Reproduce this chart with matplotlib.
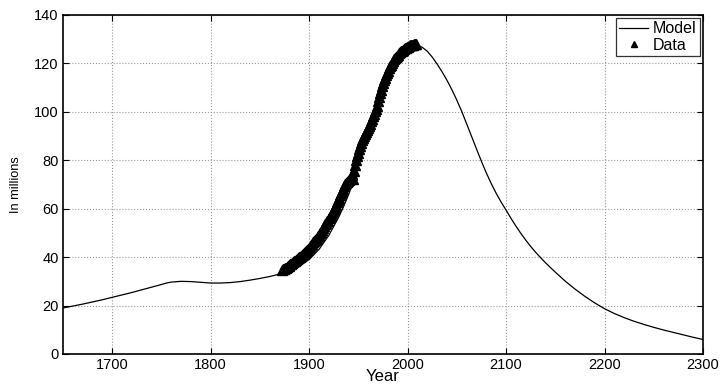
import matplotlib
matplotlib.use('Agg')
import matplotlib.pyplot as plt

plt.rcParams['font.family'] = ['Liberation Sans', 'DejaVu Sans']

# Model curve (millions)
model_years = [1650, 1660, 1670, 1680, 1690, 1700, 1710, 1720, 1730, 1740,
               1750, 1755, 1760, 1770, 1780, 1790, 1800, 1810, 1820, 1830,
               1840, 1850, 1860, 1870, 1880, 1890, 1900, 1910, 1920, 1930,
               1935, 1940, 1945, 1950, 1955, 1960, 1965, 1970, 1975, 1980,
               1985, 1990, 1995, 2000, 2005, 2010, 2015, 2020, 2025, 2030,
               2035, 2040, 2045, 2050, 2055, 2060, 2065, 2070, 2075, 2080,
               2085, 2090, 2095, 2100, 2105, 2110, 2115, 2120, 2125, 2130,
               2135, 2140, 2145, 2150, 2160, 2170, 2180, 2190, 2200, 2210,
               2220, 2230, 2240, 2250, 2260, 2270, 2280, 2290, 2300]
model_pop = [19.0, 19.8, 20.6, 21.5, 22.4, 23.4, 24.4, 25.4, 26.5, 27.6,
             28.7, 29.3, 29.7, 30.0, 29.9, 29.6, 29.3, 29.3, 29.5, 29.9,
             30.5, 31.2, 32.0, 33.0, 34.3, 36.2, 39.0, 43.2, 49.0, 56.5,
             60.9, 65.8, 71.4, 77.5, 83.8, 90.3, 96.7, 102.8, 108.5, 113.6,
             118.0, 121.5, 124.6, 126.6, 127.9, 127.6, 126.6, 125.0, 122.6, 119.7,
             116.5, 113.0, 109.1, 104.8, 100.1, 95.0, 89.8, 84.6, 79.5, 74.7,
             70.3, 66.3, 62.7, 59.4, 56.0, 52.8, 49.8, 47.0, 44.4, 42.0,
             39.8, 37.7, 35.7, 33.8, 30.1, 26.8, 23.8, 21.1, 18.7, 16.7,
             15.0, 13.5, 12.2, 11.0, 9.9, 8.9, 7.9, 6.9, 6.0]

# Observed data (millions), 1872-2008
data_years = list(range(1872, 2009))
data_pop = [34.81, 34.99, 35.15, 35.32, 35.56, 35.87, 36.17, 36.46, 36.65, 36.97,
            37.26, 37.57, 37.96, 38.31, 38.54, 38.70, 39.03, 39.47, 39.90, 40.25,
            40.51, 40.86, 41.14, 41.56, 41.99, 42.40, 42.89, 43.40, 43.85, 44.36,
            44.96, 45.55, 46.14, 46.62, 47.04, 47.42, 47.96, 48.55, 49.18, 49.85,
            50.58, 51.31, 52.04, 52.75, 53.50, 54.13, 54.74, 55.03, 55.96, 56.67,
            57.39, 58.12, 58.88, 59.74, 60.74, 61.66, 62.60, 63.46, 64.45, 65.46,
            66.43, 67.43, 68.31, 69.25, 70.11, 70.63, 71.01, 71.38, 71.93, 72.22,
            72.88, 73.90, 74.43, 72.15, 75.75, 78.10, 80.00, 81.77, 83.20, 84.54,
            85.81, 86.98, 88.24, 89.28, 90.17, 90.93, 91.77, 92.64, 93.42, 94.29,
            95.18, 96.16, 97.18, 98.28, 99.04, 100.20, 101.33, 102.54, 104.67, 106.10,
            107.60, 109.10, 110.57, 111.94, 113.09, 114.15, 115.19, 116.16, 117.06, 117.90,
            118.73, 119.54, 120.31, 121.05, 121.66, 122.24, 122.75, 123.21, 123.61, 124.10,
            124.57, 124.94, 125.27, 125.57, 125.86, 126.17, 126.47, 126.67, 126.93, 127.32,
            127.49, 127.69, 127.79, 127.77, 127.90, 128.03, 128.08]

x_ticks = [1700, 1800, 1900, 2000, 2100, 2200, 2300]
y_ticks = [0, 20, 40, 60, 80, 100, 120, 140]

fig = plt.figure(figsize=(7.22, 3.87), dpi=100)
ax = fig.add_axes([0.0873, 0.0853, 0.8864, 0.876])

ax.plot(model_years, model_pop, color='black', linewidth=0.9, label='Model')
ax.plot(data_years, data_pop, linestyle='none', marker='^', markersize=6.5,
        color='black', label='Data')

ax.set_xlim(1650, 2300)
ax.set_ylim(0, 140)
ax.set_xticks(x_ticks)
ax.set_yticks(y_ticks)
ax.tick_params(direction='in', top=True, right=True, length=4, labelsize=10.5, pad=3)
ax.grid(True, linestyle=':', color='#999999', linewidth=0.8)
for s in ax.spines.values():
    s.set_linewidth(1.2)

ax.set_xlabel('Year', fontsize=12, labelpad=-2)
ax.set_ylabel('In millions', fontsize=9.2, labelpad=9)

leg = ax.legend(loc='upper right', fontsize=11.5, frameon=True, fancybox=False,
                edgecolor='black', borderaxespad=0.2, handlelength=1.8,
                borderpad=0.2, labelspacing=0.1, handletextpad=0.3,
                markerscale=0.6)
leg.get_frame().set_linewidth(0.9)

fig.savefig('out.png', dpi=100)
